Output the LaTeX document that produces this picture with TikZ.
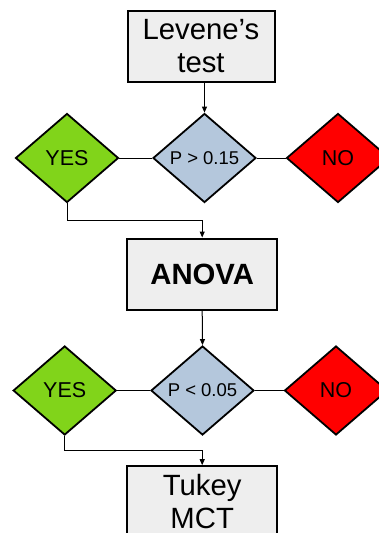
\documentclass[tikz,border=0pt]{standalone}
\usepackage{fontspec}
\setmainfont{Liberation Sans}
\usetikzlibrary{shapes.geometric,arrows.meta,calc}
\definecolor{boxgray}{HTML}{EEEEEE}
\definecolor{qblue}{HTML}{B4C7DC}
\definecolor{ygreen}{HTML}{81D41A}
\definecolor{nred}{HTML}{FF0000}
\tikzset{
  stepbox/.style={draw=black, line width=2pt, fill=boxgray, rectangle, inner sep=0pt, align=center,
    font=\fontsize{29.3}{32.5}\selectfont},
  dia/.style={draw=black, line width=1.8pt, diamond, inner sep=0pt, minimum width=103pt, minimum height=89pt},
  qdia/.style={dia, fill=qblue, font=\fontsize{18.5}{22}\selectfont},
  ydia/.style={dia, fill=ygreen, font=\fontsize{21.5}{25}\selectfont},
  ndia/.style={dia, fill=nred, font=\fontsize{21.5}{25}\selectfont},
  conn/.style={draw=black, line width=1pt},
  arr/.style={conn, -{Triangle[length=6pt,width=5pt]}}
}
\begin{document}
\begin{tikzpicture}[x=1pt,y=-1pt]
\useasboundingbox (0,0) rectangle (379,533);
\clip (0,0) rectangle (379,533);
\node[stepbox, minimum width=147pt, minimum height=71pt] (lev) at (201,46) {Levene’s\\test};
\node[qdia] (d1) at (204.5,158) {P > 0.15};
\node[ydia] (y1) at (67,158) {YES};
\node[ndia] (n1) at (338,158) {NO};
\node[stepbox, minimum width=150pt, minimum height=71pt, font=\fontsize{29.3}{32}\selectfont\bfseries] (anova) at (202.2,274) {ANOVA};
\node[qdia] (d2) at (202.5,390.5) {P < 0.05};
\node[ydia] (y2) at (64.7,390.5) {YES};
\node[ndia] (n2) at (336,390.5) {NO};
\node[stepbox, minimum width=150pt, minimum height=71pt] (tukey) at (202.2,501.7) {Tukey\\MCT};
\draw[arr] (d1.north |- lev.south) -- (d1.north);
\draw[conn] (y1.east) -- (d1.west);
\draw[conn] (d1.east) -- (n1.west);
\draw[arr] (y1.south) |- ($(y1.south)!.5!(anova.north)$) -| (anova.north);
\draw[arr] (anova.south) -- (d2.north);
\draw[conn] (y2.east) -- (d2.west);
\draw[conn] (d2.east) -- (n2.west);
\draw[arr] (y2.south) |- ($(y2.south)!.5!(tukey.north)$) -| (tukey.north);
\end{tikzpicture}
\end{document}
